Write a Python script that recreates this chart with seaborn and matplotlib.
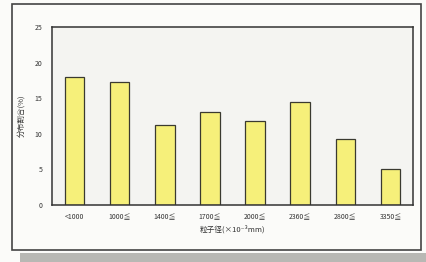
import numpy as np
import pandas as pd
import matplotlib
matplotlib.use("Agg")
import matplotlib.pyplot as plt
import seaborn as sns
from matplotlib.patches import Rectangle

# ====================== data ======================
size_labels = ["<1000", "1000≦", "1400≦", "1700≦", "2000≦", "2360≦", "2800≦", "3350≦"]
share_pct = [18.0, 17.3, 11.3, 13.1, 11.8, 14.4, 9.3, 5.1]

df = pd.DataFrame({"size": size_labels, "share": share_pct})

sns.set_theme(style="white")
plt.rcParams['font.family'] = ['Noto Sans CJK JP', 'DejaVu Sans']

fig = plt.figure(figsize=(4.27, 2.62), dpi=100)
fig.patch.set_facecolor("#fbfbf9")
ax = fig.add_axes([52 / 427, 1 - 205 / 262, (413 - 52) / 427, (205 - 27) / 262])
ax.set_facecolor("#f4f4f1")

sns.barplot(data=df, x="size", y="share", ax=ax, color="#f6f07a",
            edgecolor="#3a3a30", linewidth=0.9, width=0.43, saturation=1)

ax.set_ylim(0, 25)
ax.set_yticks([0, 5, 10, 15, 20, 25])
ax.set_xlim(-0.5, len(size_labels) - 0.5)
ax.tick_params(axis="both", labelsize=5, colors="#333333", length=0, pad=6)
ax.tick_params(axis="y", pad=7)
ax.set_xticks(np.arange(len(size_labels)) + 0.5, minor=True)
ax.tick_params(axis="x", which="minor", direction="in", length=3, color="#555555")
ax.set_ylabel("分布割合(%)", fontsize=5.5, color="#333333")
ax.yaxis.set_label_coords(-0.075, 0.5)
ax.set_xlabel("粒子径(×10⁻³mm)", fontsize=5.5, color="#333333", labelpad=3)

for spine in ax.spines.values():
    spine.set_visible(True)
    spine.set_color("#333333")
    spine.set_linewidth(1.1)

# outer frame of the scanned figure
fig.patches.append(Rectangle((12 / 427, 1 - 250 / 262), (421 - 12) / 427, (250 - 4) / 262,
                             transform=fig.transFigure, fill=False,
                             edgecolor="#444444", linewidth=1.2))
fig.patches.append(Rectangle((20 / 427, 0), (427 - 20) / 427, 9 / 262,
                             transform=fig.transFigure, facecolor="#b8b8b4",
                             edgecolor="none"))

fig.savefig("out.png", dpi=100)
